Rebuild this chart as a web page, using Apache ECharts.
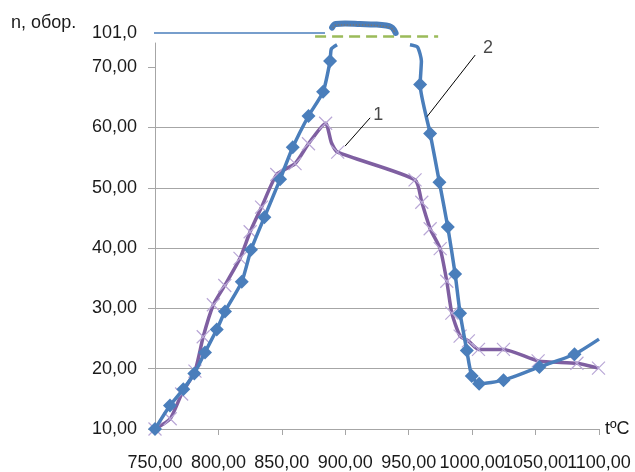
<!DOCTYPE html>
<html><head><meta charset="utf-8">
<script src="https://cdn.jsdelivr.net/npm/echarts@6/dist/echarts.min.js"></script>
<style>html,body{margin:0;padding:0;background:#fff}#c{width:635px;height:472px}</style>
</head><body><div id="c"></div>
<script>
// ---- data ----
const xTicks = [750, 800, 850, 900, 950, 1000, 1050, 1100];
const yTicks = [10, 20, 30, 40, 50, 60, 70];
const topTick = [101];

// curve 2 (blue, diamonds) – rising branch
const blueLeft = [[750,10],[761.8,13.9],[772.3,16.6],[781,19.2],[789.4,22.7],[798.7,26.5],[805.2,29.5],[818.4,34.4],[825.7,39.7],[836.2,45.1],[848.6,51.4],[858.6,56.7],[871,61.9],[882.5,65.9],[888,71]];
const blueLeftHook = [[889,73.0],[893.5,73.7]];
// curve 2 – falling branch
const blueRightHook = [[951,73.7],[957,73.3],[960,71]];
const blueRight = [[959,67.1],[966.9,59.0],[974.2,50.9],[980.8,43.5],[986.6,35.7],[990.5,29.2],[995.8,23.0],[999.7,18.8],[1005.5,17.5],[1024.7,18.1],[1053,20.3],[1080.7,22.4]];
const blueRightEnd = [[1100,24.9]];

// curve 1 (purple, x markers)
const purple = [[750,10],[762,11.7],[771,15.8],[781.5,19.6],[788,25.3],[796,30.6],[805,33.8],[817,38.3],[825,42.7],[834,46.8],[846,52.2],[860.4,54.0],[871,57.3],[884.5,60.7],[894,55.9],[955,51.3],[960.3,47.6],[966.9,43.2],[974.8,39.9],[980,34.5],[984,29.2],[990.5,25.4],[997,24.6],[1005,23.2],[1024.7,23.2],[1052,21.3],[1082.6,20.9],[1099.6,20.1]];
const purpleBend = [[889,57.5]];

// upper (broken) part of the n axis, around 101
const blue101 = [[748.5,101],[884,101]];
const green101 = [[876.2,100.65],[973.2,100.65]];
const capLine = [[889.6,101.55],[892.4,101.9],[899.8,101.95],[911.7,101.9],[923.5,101.85],[932.2,101.75],[936.2,101.6],[938.5,101.3],[939.7,101.0]];
const capDots = [[890.2,101.5],[893,101.8],[911.7,101.8],[932,101.65],[936.5,101.45],[938.8,101.1]];

// annotation leaders & labels
const leader1 = [[899.8,56.9],[919.6,61.6]];
const leader2 = [[964.5,61.8],[1002.4,72.0]];
const label1 = [[925.9,62.0]];
const label2 = [[1012.6,73.2]];

// ---- chart ----
const BLUE = '#4a7ebb', PURPLE = '#7f5fa1', XMARK = '#b9a7d6';
const TXT = '#1a1a1a', GRID = '#a6a6a6';
const font = 'Liberation Sans, Arial, sans-serif';
const fmt = v => v.toFixed(2).replace('.', ',');
const noSym = p => ({value: p, symbol: 'none'});
const xLabelsA = xTicks.filter((v, i) => i % 2 === 0);
const xLabelsB = xTicks.filter((v, i) => i % 2 === 1);
const xLabelStyle = {fontSize: 18, color: TXT, fontFamily: font, margin: 25, formatter: fmt,
  hideOverlap: false, showMinLabel: true, showMaxLabel: true};

const chart = echarts.init(document.getElementById('c'), null, {renderer: 'canvas'});
chart.setOption({
  animation: false,
  backgroundColor: '#fff',
  textStyle: {fontFamily: font},
  title: {text: 'n, обор.', left: 11, top: 14, padding: 0,
    textStyle: {fontSize: 18, fontWeight: 'normal', color: TXT, fontFamily: font}},
  grid: [
    {left: 155, right: 36, top: 43, bottom: 40},
    {left: 155, right: 36, top: 15, bottom: 429}
  ],
  xAxis: [
    {gridIndex: 0, type: 'value', min: 750, max: 1100, interval: 50, position: 'bottom',
      name: 'tºC', nameLocation: 'end', nameGap: 6,
      nameTextStyle: {fontSize: 18, color: TXT, fontFamily: font, padding: [0,0,9,0]},
      axisLine: {lineStyle: {color: GRID, width: 1}},
      axisTick: {show: true, inside: false, length: 6, lineStyle: {color: GRID}, customValues: xTicks},
      axisLabel: Object.assign({customValues: xLabelsA}, xLabelStyle),
      splitLine: {show: false}},
    {gridIndex: 1, type: 'value', min: 750, max: 1100, show: false},
    {gridIndex: 0, type: 'value', min: 750, max: 1100, interval: 50, position: 'bottom', offset: 0,
      axisLine: {show: false}, axisTick: {show: false}, splitLine: {show: false},
      axisLabel: Object.assign({customValues: xLabelsB}, xLabelStyle)}
  ],
  yAxis: [
    {gridIndex: 0, type: 'value', min: 10, max: 74, interval: 10,
      axisLine: {show: true, lineStyle: {color: GRID, width: 1}},
      axisTick: {show: true, length: 7, lineStyle: {color: GRID}, customValues: yTicks},
      axisLabel: {fontSize: 18, color: TXT, fontFamily: font, margin: 18, formatter: fmt, customValues: yTicks},
      splitLine: {show: true, showMaxLine: false, showMinLine: true, lineStyle: {color: GRID, width: 1}}},
    {gridIndex: 1, type: 'value', min: 100, max: 102.8, interval: 1,
      axisLine: {show: false}, axisTick: {show: false}, splitLine: {show: false},
      axisLabel: {fontSize: 18, color: TXT, fontFamily: font, margin: 18, padding: [0,0,9,0],
        customValues: topTick, formatter: v => v.toFixed(1).replace('.', ',')}}
  ],
  series: [
    {type: 'line', name: 'purple', xAxisIndex: 0, yAxisIndex: 0, z: 3,
      data: [...purple.slice(0,14), ...purpleBend.map(noSym), ...purple.slice(14)],
      smooth: 0.2, symbol: 'path://M0 0L10 10M10 0L0 10', symbolSize: 13,
      itemStyle: {color: XMARK, borderColor: XMARK, borderWidth: 1.2},
      lineStyle: {color: PURPLE, width: 3.5}},
    {type: 'line', name: 'blueL', xAxisIndex: 0, yAxisIndex: 0, z: 4,
      data: [...blueLeft, ...blueLeftHook.map(noSym)],
      smooth: 0.2, symbol: 'diamond', symbolSize: 14,
      itemStyle: {color: BLUE}, lineStyle: {color: BLUE, width: 3.5}},
    {type: 'line', name: 'blueR', xAxisIndex: 0, yAxisIndex: 0, z: 4,
      data: [...blueRightHook.map(noSym), ...blueRight, ...blueRightEnd.map(noSym)],
      smooth: 0.2, symbol: 'diamond', symbolSize: 14,
      itemStyle: {color: BLUE}, lineStyle: {color: BLUE, width: 3.5}},
    {type: 'line', xAxisIndex: 1, yAxisIndex: 1, data: blue101, clip: false, symbol: 'none',
      lineStyle: {color: BLUE, width: 1.5}},
    {type: 'line', xAxisIndex: 1, yAxisIndex: 1, data: green101, clip: false, symbol: 'none',
      lineStyle: {color: '#9bbb59', width: 2.5, type: [11, 6]}},
    {type: 'line', xAxisIndex: 1, yAxisIndex: 1, data: capLine, clip: false, symbol: 'none', smooth: 0.4,
      lineStyle: {color: BLUE, width: 6, cap: 'round'}},
    {type: 'line', xAxisIndex: 1, yAxisIndex: 1, data: capDots, clip: false, symbol: 'none', smooth: 0.4,
      lineStyle: {color: '#777', width: 1.5, type: [1.5, 1.5]}},
    {type: 'line', xAxisIndex: 0, yAxisIndex: 0, data: leader1, symbol: 'none', z: 6,
      lineStyle: {color: '#000', width: 1}},
    {type: 'line', xAxisIndex: 0, yAxisIndex: 0, data: leader2, symbol: 'none', z: 6,
      lineStyle: {color: '#000', width: 1}},
    {type: 'scatter', xAxisIndex: 0, yAxisIndex: 0, data: label1, symbolSize: 0, z: 6,
      label: {show: true, position: 'inside', formatter: '1', fontSize: 18, color: TXT, fontFamily: font}},
    {type: 'scatter', xAxisIndex: 0, yAxisIndex: 0, data: label2, symbolSize: 0, z: 6,
      label: {show: true, position: 'inside', formatter: '2', fontSize: 18, color: TXT, fontFamily: font}}
  ]
});
</script></body></html>
